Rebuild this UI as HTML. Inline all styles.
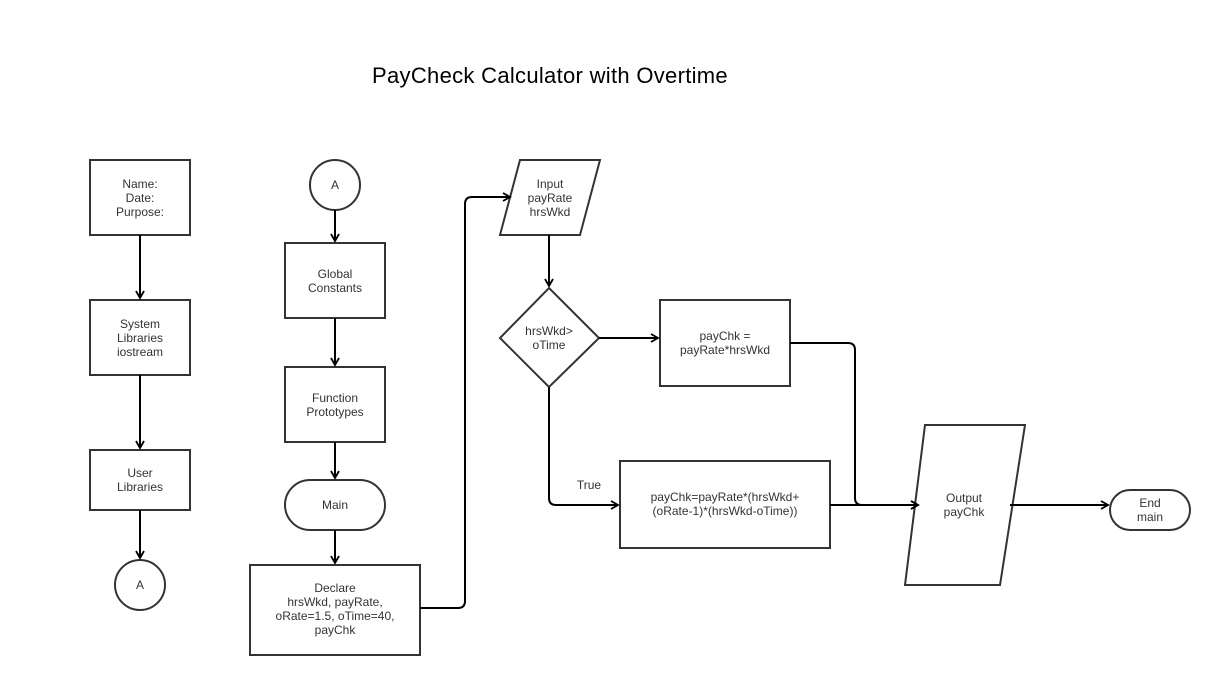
<!DOCTYPE html>
<html><head><style>body{margin:0;background:#fff}svg text{font-family:"Liberation Sans",Arial,sans-serif;fill:#333;font-size:12px}</style></head>
<body>
<svg width="1216" height="675" viewBox="0 0 1216 675" xmlns="http://www.w3.org/2000/svg">
<defs><marker id="a" markerWidth="10" markerHeight="10" refX="8" refY="5" orient="auto" markerUnits="userSpaceOnUse"><path d="M1,1 L8,5 L1,9" fill="none" stroke="#000" stroke-width="1.8"/></marker></defs>
<rect width="1216" height="675" fill="#fff"/>
<text x="550" y="83" text-anchor="middle" style="font-size:22px;fill:#000;letter-spacing:0.3px">PayCheck Calculator with Overtime</text>
<g fill="#fff" stroke="#333" stroke-width="2">
<rect x="90" y="160" width="100" height="75"/>
<rect x="90" y="300" width="100" height="75"/>
<rect x="90" y="450" width="100" height="60"/>
<circle cx="140" cy="585" r="25"/>
<circle cx="335" cy="185" r="25"/>
<rect x="285" y="243" width="100" height="75"/>
<rect x="285" y="367" width="100" height="75"/>
<rect x="285" y="480" width="100" height="50" rx="25"/>
<rect x="250" y="565" width="170" height="90"/>
<polygon points="520,160 600,160 580,235 500,235"/>
<polygon points="549,288 599,338 549,387 500,338"/>
<rect x="660" y="300" width="130" height="86"/>
<rect x="620" y="461" width="210" height="87"/>
<polygon points="925,425 1025,425 1000,585 905,585"/>
<rect x="1110" y="490" width="80" height="40" rx="20"/>
</g>
<g fill="none" stroke="#000" stroke-width="2" marker-end="url(#a)">
<path d="M140,235 V298"/>
<path d="M140,375 V448"/>
<path d="M140,510 V558"/>
<path d="M335,210 V241"/>
<path d="M335,318 V365"/>
<path d="M335,442 V478"/>
<path d="M335,530 V563"/>
<path d="M420,608 H458 Q465,608 465,601 V204 Q465,197 472,197 H510"/>
<path d="M549,235 V286"/>
<path d="M599,338 H658"/>
<path d="M549,387 V498 Q549,505 556,505 H618"/>
<path d="M830,505 H918"/>
<path d="M790,343 H848 Q855,343 855,350 V498 Q855,505 862,505 H918"/>
<path d="M1010,505 H1108"/>
</g>
<g text-anchor="middle">
<text x="140" y="188">Name:</text><text x="140" y="202">Date:</text><text x="140" y="216">Purpose:</text>
<text x="140" y="328">System</text><text x="140" y="342">Libraries</text><text x="140" y="356">iostream</text>
<text x="140" y="477">User</text><text x="140" y="491">Libraries</text>
<text x="140" y="589">A</text>
<text x="335" y="189">A</text>
<text x="335" y="278">Global</text><text x="335" y="292">Constants</text>
<text x="335" y="402">Function</text><text x="335" y="416">Prototypes</text>
<text x="335" y="509">Main</text>
<text x="335" y="592">Declare</text><text x="335" y="606">hrsWkd, payRate,</text><text x="335" y="620">oRate=1.5, oTime=40,</text><text x="335" y="634">payChk</text>
<text x="550" y="188">Input</text><text x="550" y="202">payRate</text><text x="550" y="216">hrsWkd</text>
<text x="549" y="335">hrsWkd&gt;</text><text x="549" y="349">oTime</text>
<text x="725" y="340">payChk =</text><text x="725" y="354">payRate*hrsWkd</text>
<text x="589" y="489">True</text>
<text x="725" y="501">payChk=payRate*(hrsWkd+</text><text x="725" y="515">(oRate-1)*(hrsWkd-oTime))</text>
<text x="964" y="502">Output</text><text x="964" y="516">payChk</text>
<text x="1150" y="507">End</text><text x="1150" y="521">main</text>
</g>
</svg>
</body></html>
